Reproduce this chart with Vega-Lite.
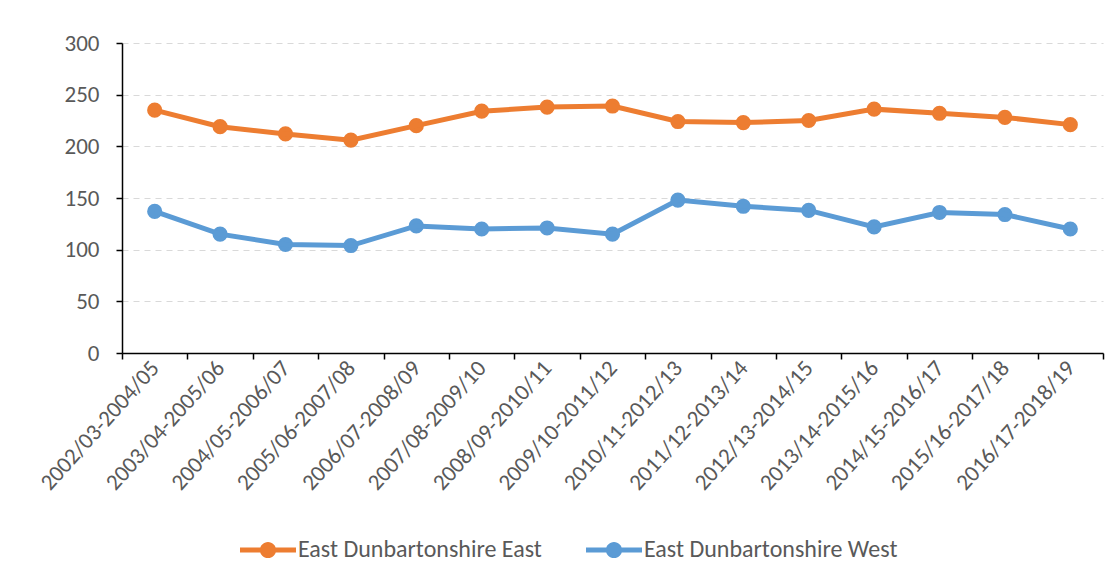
{
  "$schema": "https://vega.github.io/schema/vega-lite/v6.json",
  "width": 981,
  "height": 310,
  "autosize": {"type": "none"},
  "padding": {"left": 122, "top": 43, "right": 15, "bottom": 225},
  "background": "white",
  "config": {
    "view": {"stroke": null},
    "font": "Carlito, Liberation Sans, sans-serif",
    "axis": {"labelFont": "Carlito, Liberation Sans, sans-serif", "labelColor": "#595959", "labelFontSize": 23, "titleFontSize": 0, "labelLimit": 400}
  },
  "data": {
    "values": [
      {"period": "2002/03-2004/05", "area": "East Dunbartonshire East", "value": 235},
      {"period": "2003/04-2005/06", "area": "East Dunbartonshire East", "value": 219},
      {"period": "2004/05-2006/07", "area": "East Dunbartonshire East", "value": 212},
      {"period": "2005/06-2007/08", "area": "East Dunbartonshire East", "value": 206},
      {"period": "2006/07-2008/09", "area": "East Dunbartonshire East", "value": 220},
      {"period": "2007/08-2009/10", "area": "East Dunbartonshire East", "value": 234},
      {"period": "2008/09-2010/11", "area": "East Dunbartonshire East", "value": 238},
      {"period": "2009/10-2011/12", "area": "East Dunbartonshire East", "value": 239},
      {"period": "2010/11-2012/13", "area": "East Dunbartonshire East", "value": 224},
      {"period": "2011/12-2013/14", "area": "East Dunbartonshire East", "value": 223},
      {"period": "2012/13-2014/15", "area": "East Dunbartonshire East", "value": 225},
      {"period": "2013/14-2015/16", "area": "East Dunbartonshire East", "value": 236},
      {"period": "2014/15-2016/17", "area": "East Dunbartonshire East", "value": 232},
      {"period": "2015/16-2017/18", "area": "East Dunbartonshire East", "value": 228},
      {"period": "2016/17-2018/19", "area": "East Dunbartonshire East", "value": 221},
      {"period": "2002/03-2004/05", "area": "East Dunbartonshire West", "value": 137},
      {"period": "2003/04-2005/06", "area": "East Dunbartonshire West", "value": 115},
      {"period": "2004/05-2006/07", "area": "East Dunbartonshire West", "value": 105},
      {"period": "2005/06-2007/08", "area": "East Dunbartonshire West", "value": 104},
      {"period": "2006/07-2008/09", "area": "East Dunbartonshire West", "value": 123},
      {"period": "2007/08-2009/10", "area": "East Dunbartonshire West", "value": 120},
      {"period": "2008/09-2010/11", "area": "East Dunbartonshire West", "value": 121},
      {"period": "2009/10-2011/12", "area": "East Dunbartonshire West", "value": 115},
      {"period": "2010/11-2012/13", "area": "East Dunbartonshire West", "value": 148},
      {"period": "2011/12-2013/14", "area": "East Dunbartonshire West", "value": 142},
      {"period": "2012/13-2014/15", "area": "East Dunbartonshire West", "value": 138},
      {"period": "2013/14-2015/16", "area": "East Dunbartonshire West", "value": 122},
      {"period": "2014/15-2016/17", "area": "East Dunbartonshire West", "value": 136},
      {"period": "2015/16-2017/18", "area": "East Dunbartonshire West", "value": 134},
      {"period": "2016/17-2018/19", "area": "East Dunbartonshire West", "value": 120}
    ]
  },
  "encoding": {
    "x": {
      "field": "period", "type": "nominal", "sort": null, "title": null,
      "scale": {"type": "band", "paddingInner": 0, "paddingOuter": 0},
      "axis": {
        "labelAngle": -48, "labelPadding": 5, "domainColor": "#000000", "domainWidth": 1.5,
        "tickColor": "#000000", "tickWidth": 1.5, "tickSize": 6, "tickBand": "extent", "grid": false
      }
    },
    "y": {
      "field": "value", "type": "quantitative", "title": null,
      "scale": {"domain": [0, 300], "nice": false},
      "axis": {
        "values": [0, 50, 100, 150, 200, 250, 300], "domainColor": "#000000", "domainWidth": 1.5,
        "tickColor": "#000000", "tickWidth": 1.5, "tickSize": 6, "labelPadding": 17,
        "gridColor": "#D9D9D9", "gridDash": [6, 5], "gridWidth": 1.2
      }
    },
    "color": {
      "field": "area", "type": "nominal", "title": null,
      "scale": {"domain": ["East Dunbartonshire East", "East Dunbartonshire West"], "range": ["#ED7D31", "#5B9BD5"]},
      "legend": {
        "orient": "none", "legendX": 118, "legendY": 479, "direction": "horizontal",
        "symbolType": "M-1,-0.09L1,-0.09L1,0.09L-1,0.09Z M0.29,0A0.29,0.29,0,1,1,-0.29,0A0.29,0.29,0,1,1,0.29,0Z",
        "symbolSize": 3136, "symbolStrokeWidth": 0, "symbolOpacity": 1,
        "labelFont": "Carlito, Liberation Sans, sans-serif", "labelFontSize": 24, "labelColor": "#595959",
        "labelLimit": 400, "labelOffset": 2, "columnPadding": 44, "title": null
      }
    }
  },
  "layer": [
    {
      "mark": {"type": "point", "filled": true, "opacity": 1, "size": 230}
    },
    {
      "mark": {"type": "line", "strokeWidth": 5}
    }
  ]
}
